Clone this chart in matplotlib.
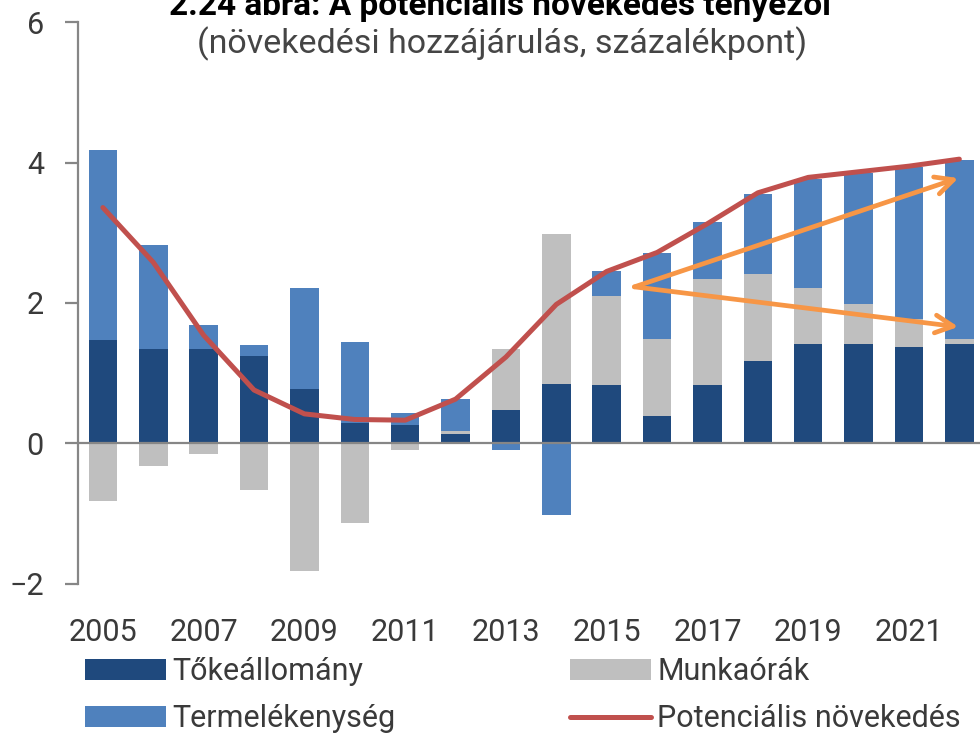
import numpy as np
import matplotlib
matplotlib.use("Agg")
import matplotlib.pyplot as plt

plt.rcParams['font.family'] = ['Roboto', 'DejaVu Sans']

# adatok (leolvasva az abrarol)
evek = list(range(2005, 2023))
tokeallomany = [1.47, 1.34, 1.34, 1.24, 0.78, 0.29, 0.26, 0.13, 0.48, 0.85,
                0.83, 0.39, 0.83, 1.17, 1.41, 1.41, 1.38, 1.41]
munkaorak = [-0.82, -0.32, -0.15, -0.66, -1.82, -1.13, -0.10, 0.05, 0.86, 2.13,
             1.27, 1.10, 1.51, 1.24, 0.80, 0.57, 0.39, 0.08]
termelekenyseg = [2.71, 1.48, 0.35, 0.16, 1.44, 1.16, 0.17, 0.45, -0.10, -1.02,
                  0.35, 1.22, 0.82, 1.15, 1.55, 1.87, 2.17, 2.55]
potencialis = [3.36, 2.58, 1.54, 0.76, 0.42, 0.34, 0.33, 0.63, 1.23, 1.98,
               2.45, 2.72, 3.13, 3.57, 3.79, 3.87, 3.95, 4.05]

x_cimkek = list(range(2005, 2022, 2))
y_cimkek = [-2, 0, 2, 4, 6]

# narancs nyilak: kezdopont es ket vegpont
nyil_start = (2015.55, 2.23)
nyil_fel = (2021.98, 3.78)
nyil_le = (2021.98, 1.66)

cim = "2.24 ábra: A potenciális növekedés tényezői"
alcim = "(növekedési hozzájárulás, százalékpont)"

szinek = {"toke": "#1F497D", "munka": "#BFBFBF", "termel": "#4F81BD",
          "pot": "#C0504D", "nyil": "#F79646", "tengely": "#868686"}
szoveg_szin = "#3A3A3A"

fig = plt.figure(figsize=(9.8, 7.41), dpi=100)
ax = fig.add_axes([77.7 / 980, 1 - 583.7 / 741, 1 - 77.7 / 980, (583.7 - 22.3) / 741])

# halmozott oszlopok (pozitiv es negativ kulon)
x = np.array(evek)
pos_alap = np.zeros(len(evek))
neg_alap = np.zeros(len(evek))
sorok = [(tokeallomany, szinek["toke"], "Tőkeállomány"),
         (munkaorak, szinek["munka"], "Munkaórák"),
         (termelekenyseg, szinek["termel"], "Termelékenység")]
handles = {}
for ertekek, szin, nev in sorok:
    v = np.array(ertekek)
    alap = np.where(v >= 0, pos_alap, neg_alap)
    b = ax.bar(x, v, bottom=alap, width=0.565, color=szin, zorder=2, label=nev)
    handles[nev] = b
    pos_alap = pos_alap + np.where(v >= 0, v, 0)
    neg_alap = neg_alap + np.where(v < 0, v, 0)

ax.axhline(0, color=szinek["tengely"], lw=1.6, zorder=3)

vonal, = ax.plot(x, potencialis, color=szinek["pot"], lw=3.6, zorder=4,
                 solid_capstyle="round", label="Potenciális növekedés")

# nyilak
for veg in [nyil_fel, nyil_le]:
    ax.annotate("", xy=veg, xytext=nyil_start,
                arrowprops=dict(arrowstyle="->", color=szinek["nyil"], lw=3.4,
                                mutation_scale=32, shrinkA=0, shrinkB=0),
                zorder=5)

ax.set_xlim(2004.5, 2022.41)
ax.set_ylim(-2, 6)

ax.set_xticks(x_cimkek)
ax.set_xticklabels([str(e) for e in x_cimkek])
ax.set_yticks(y_cimkek)
ax.tick_params(axis="x", length=0, pad=25, labelsize=22, labelcolor=szoveg_szin)
ax.tick_params(axis="y", length=9.4, width=1.6, color=szinek["tengely"], pad=15,
               labelsize=22, labelcolor=szoveg_szin, direction="out")

for s in ["top", "right", "bottom"]:
    ax.spines[s].set_visible(False)
ax.spines["left"].set_color(szinek["tengely"])
ax.spines["left"].set_linewidth(1.6)

# cim (a kep tetejen levagva, mint az eredetin) es alcim
fig.text(0.51, 1 - 15 / 741, cim, ha="center", va="baseline", fontsize=24,
         fontweight="bold", color="black")
fig.text(0.512, 1 - 53 / 741, alcim, ha="center", va="baseline", fontsize=24.5,
         fontweight="normal", color="#454545")

# jelmagyarazat
sorrend = [handles["Tőkeállomány"], handles["Termelékenység"], handles["Munkaórák"], vonal]
nevek = ["Tőkeállomány", "Termelékenység", "Munkaórák", "Potenciális növekedés"]
fig.legend(sorrend, nevek, loc="upper left", bbox_to_anchor=(85 / 980, 1 - 657 / 741),
           ncol=2, frameon=False, fontsize=22, handlelength=2.65, handleheight=0.69,
           handletextpad=0.2, labelspacing=0.6, columnspacing=5.72, borderpad=0,
           borderaxespad=0, labelcolor=szoveg_szin)

fig.savefig("out.png", dpi=100)
